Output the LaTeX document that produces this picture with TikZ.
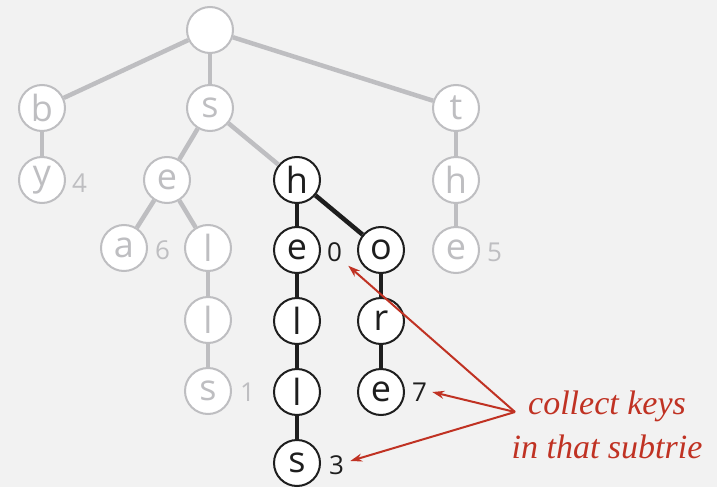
\documentclass[tikz,border=0pt]{standalone}
\usepackage{fontspec}
\setmainfont{Open Sans}
\newfontfamily\notefont{Liberation Serif}
\usetikzlibrary{arrows.meta}
\definecolor{trieGray}{RGB}{190,190,193}
\definecolor{trieInk}{RGB}{30,30,30}
\definecolor{noteRed}{RGB}{192,50,35}
\definecolor{paper}{RGB}{242,242,242}
\tikzset{
  gnode/.style={circle, draw=trieGray, fill=white, line width=2pt, minimum size=46pt, inner sep=0pt, text=trieGray, font=\fontsize{36}{36}\selectfont},
  bnode/.style={gnode, draw=trieInk, text=trieInk},
  gedge/.style={trieGray, line width=4.5pt},
  bedge/.style={trieInk, line width=4.5pt},
  gkey/.style={anchor=west, inner sep=0pt, text=trieGray, font=\fontsize{26}{26}\selectfont},
  bkey/.style={gkey, text=trieInk},
  pointer/.style={-{Stealth[length=12pt,width=8pt]}, noteRed, line width=2pt}
}
\begin{document}
\begin{tikzpicture}[x=1pt, y=-1pt]
\fill [paper] (0,0) rectangle (717,487);
\useasboundingbox (0,0) rectangle (717,487);
% gray part of the trie
\node [gnode] (root) at (210,30) {};
\node [gnode] (b) at (42,108) {b};
\node [gnode] (s) at (210,108) {s};
\node [gnode] (t) at (456,108) {t};
\node [gnode] (by) at (42,180) {y};
\node [gnode] (se) at (167,180) {e};
\node [gnode] (th) at (456,180) {h};
\node [gnode] (sea) at (124,248) {a};
\node [gnode] (sel) at (208,248) {l};
\node [gnode] (the) at (456,250) {e};
\node [gnode] (sell) at (208,320) {l};
\node [gnode] (sells) at (208,391) {s};
% subtrie below sh
\node [bnode] (sh) at (297,180) {h};
\node [bnode] (she) at (297,250) {e};
\node [bnode] (sho) at (381,250) {o};
\node [bnode] (shel) at (297,321) {l};
\node [bnode] (shor) at (381,321) {r};
\node [bnode] (shell) at (297,392) {l};
\node [bnode] (shore) at (381,392) {e};
\node [bnode] (shells) at (297,463) {s};
% values
\node [gkey] (k4) at (72,183) {4};
\node [gkey] (k6) at (155,250) {6};
\node [gkey] (k1) at (240,392) {1};
\node [gkey] (k5) at (487,252) {5};
\node [bkey] (k0) at (327,252) {0};
\node [bkey] (k7) at (412,392) {7};
\node [bkey] (k3) at (329,465) {3};
% links
\draw [gedge] (root)--(b);
\draw [gedge] (root)--(s);
\draw [gedge] (root)--(t);
\draw [gedge] (b)--(by);
\draw [gedge] (s)--(se);
\draw [gedge] (s)--(sh);
\draw [gedge] (se)--(sea);
\draw [gedge] (se)--(sel);
\draw [gedge] (sel)--(sell);
\draw [gedge] (sell)--(sells);
\draw [gedge] (t)--(th);
\draw [gedge] (th)--(the);
\draw [bedge] (sh)--(she);
\draw [bedge] (sh)--(sho);
\draw [bedge] (she)--(shel);
\draw [bedge] (shel)--(shell);
\draw [bedge] (shell)--(shells);
\draw [bedge] (sho)--(shor);
\draw [bedge] (shor)--(shore);
% note
\node [align=center, text=noteRed, font=\notefont\itshape\fontsize{34}{44}\selectfont] (note) at (607,425) {collect keys\\in that subtrie};
\coordinate (src) at (515,412);
\draw [pointer] (src)--([shift={(6,4)}]k0.south east);
\draw [pointer] (src)--([xshift=5pt]k7.east);
\draw [pointer] (src)--([shift={(6,-4)}]k3.east);
\end{tikzpicture}
\end{document}
